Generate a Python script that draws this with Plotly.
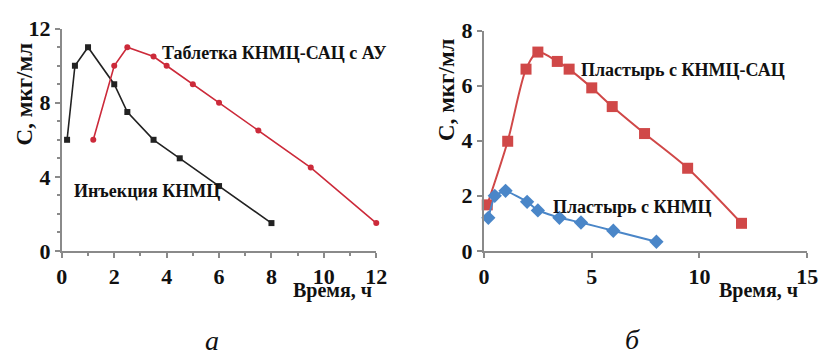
import plotly.graph_objects as go

# Panel a
inj_t = [0.2, 0.5, 1, 2, 2.5, 3.5, 4.5, 6, 8]
inj_c = [6, 10, 11, 9, 7.5, 6, 5, 3.5, 1.5]
tab_t = [1.2, 2, 2.5, 3.5, 4, 5, 6, 7.5, 9.5, 12]
tab_c = [6, 10, 11, 10.5, 10, 9, 8, 6.5, 4.5, 1.5]

# Panel b
pls_t = [0.15, 1.1, 1.95, 2.5, 3.4, 3.95, 5, 5.95, 7.45, 9.45, 11.95]
pls_c = [1.67, 3.98, 6.6, 7.22, 6.88, 6.6, 5.92, 5.24, 4.26, 3.0, 1.0]
plk_t = [0.2, 0.5, 1, 2, 2.5, 3.5, 4.5, 6, 8]
plk_c = [1.2, 2.0, 2.18, 1.78, 1.47, 1.2, 1.03, 0.73, 0.33]

W, H = 830, 354
SERIF = "Liberation Serif"
AX = "#8a8a8a"

fig = go.Figure()
fig.add_trace(go.Scatter(x=inj_t, y=inj_c, mode="lines+markers", xaxis="x", yaxis="y",
                         line=dict(color="#222222", width=1.6),
                         marker=dict(symbol="square", size=6, color="#222222"), cliponaxis=False))
fig.add_trace(go.Scatter(x=tab_t, y=tab_c, mode="lines+markers", xaxis="x", yaxis="y",
                         line=dict(color="#cc2a3a", width=1.6),
                         marker=dict(symbol="circle", size=6, color="#cc2a3a"), cliponaxis=False))
fig.add_trace(go.Scatter(x=pls_t, y=pls_c, mode="lines+markers", xaxis="x2", yaxis="y2",
                         line=dict(color="#d04848", width=2, shape="spline", smoothing=0.8),
                         marker=dict(symbol="square", size=11, color="#d04848"), cliponaxis=False))
fig.add_trace(go.Scatter(x=plk_t, y=plk_c, mode="lines+markers", xaxis="x2", yaxis="y2",
                         line=dict(color="#4a86c8", width=2, shape="spline", smoothing=0.3),
                         marker=dict(symbol="diamond", size=11, color="#4a86c8"), cliponaxis=False))

def axis(**kw):
    d = dict(showgrid=False, zeroline=False, showline=True, linecolor=AX, linewidth=2,
             ticks="outside", ticklen=5, tickcolor=AX, tickwidth=1.5,
             tickfont=dict(family=SERIF, size=22, weight="bold", color="#111111"))
    d.update(kw)
    return d

fig.update_layout(
    width=W, height=H, margin=dict(l=0, r=0, t=0, b=0),
    paper_bgcolor="white", plot_bgcolor="white", showlegend=False,
    xaxis=axis(domain=[57/W, 378/W], range=[0, 12], dtick=2, anchor="y",
               minor=dict(dtick=1, ticks="outside", ticklen=3, tickcolor=AX)),
    yaxis=axis(domain=[(H-257)/H, (H-18)/H], range=[0, 12], dtick=4, anchor="x",
               minor=dict(dtick=1, ticks="outside", ticklen=3, tickcolor=AX)),
    xaxis2=axis(domain=[488/W, 818/W], range=[0, 15], dtick=5, anchor="y2"),
    yaxis2=axis(domain=[(H-257)/H, (H-20)/H], range=[0, 8], dtick=2, anchor="x2"),
)

def ann(text, x, y, size, xanchor="left", angle=0, italic=False, bold=True):
    font = dict(family=SERIF, size=size, color="#111111")
    if bold:
        font["weight"] = "bold"
    if italic:
        font["style"] = "italic"
    fig.add_annotation(text=text, x=x/W, y=1-y/H, xref="paper", yref="paper",
                       xanchor=xanchor, yanchor="middle", showarrow=False, textangle=angle,
                       font=font)

ann("Таблетка КНМЦ-САЦ с АУ", 157, 44, 18)
ann("Инъекция КНМЦ", 67, 193, 18)
ann("Пластырь с КНМЦ-САЦ", 585, 62, 18)
ann("Пластырь с КНМЦ", 556, 210, 18)
ann("С, мкг/мл", 19, 88, 23, xanchor="center", angle=-90)
ann("С, мкг/мл", 449, 83, 23, xanchor="center", angle=-90)
ann("Время, ч", 333, 300, 20, xanchor="center")
ann("Время, ч", 768, 300, 20, xanchor="center")
ann("а", 210, 353, 28, xanchor="center", italic=True, bold=False)
ann("б", 640, 352, 28, xanchor="center", italic=True, bold=False)

fig.write_html("out.html")
